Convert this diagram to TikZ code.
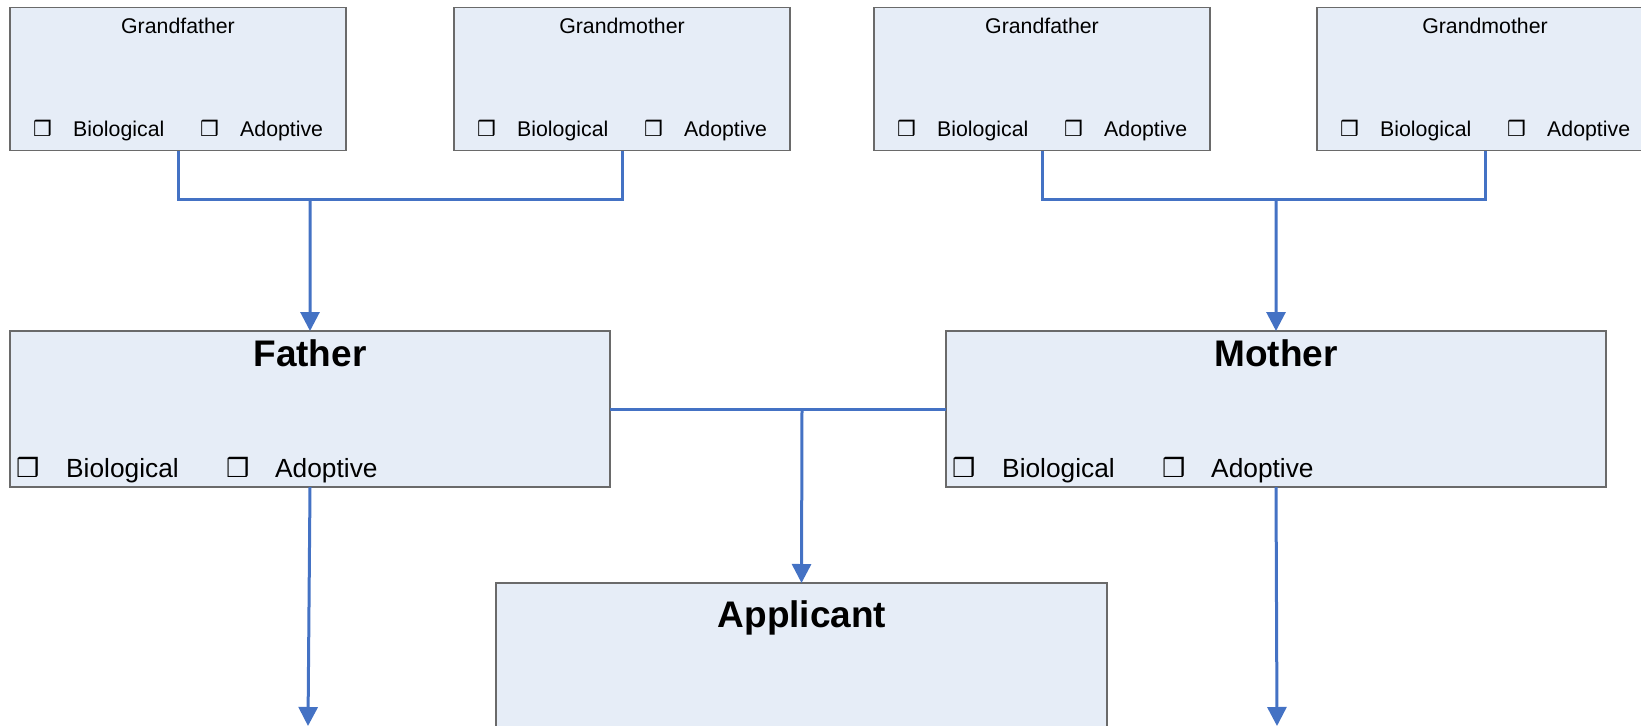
\documentclass[tikz,border=0pt]{standalone}
\usepackage{fontspec}
\setmainfont{Liberation Sans}
\newfontfamily\symfont{DejaVu Sans}
\usetikzlibrary{arrows.meta}
\definecolor{boxfill}{HTML}{E6EDF7}
\definecolor{boxline}{HTML}{6A6A6A}
\definecolor{linkblue}{HTML}{4472C4}
\tikzset{
  person/.style={draw=boxline, line width=1.5bp, fill=boxfill, anchor=north west,
    inner sep=0pt, outer sep=0pt},
  gpbox/.style={person, minimum width=336bp, minimum height=143bp},
  smalltxt/.style={font=\fontsize{21.3bp}{24bp}\selectfont, inner sep=0pt, anchor=base west},
  smallbox/.style={font=\symfont\bfseries\fontsize{21bp}{24bp}\selectfont, inner sep=0pt, anchor=base west},
  smalltitle/.style={font=\fontsize{21.3bp}{24bp}\selectfont, inner sep=0pt, anchor=base},
  bigtxt/.style={font=\fontsize{26.3bp}{30bp}\selectfont, inner sep=0pt, anchor=base west},
  bigbox/.style={font=\symfont\bfseries\fontsize{26bp}{30bp}\selectfont, inner sep=0pt, anchor=base west},
  bigtitle/.style={font=\bfseries\fontsize{37bp}{42bp}\selectfont, inner sep=0pt, anchor=base},
  link/.style={draw=linkblue, line width=3bp},
  linkarrow/.style={link, -{Triangle[width=19bp,length=19bp]}},
}
\begin{document}
\begin{tikzpicture}[x=1bp, y=-1bp]
\useasboundingbox (0,0) rectangle (1641,726);

% grandparent boxes
\node[gpbox] (gf1) at (10,7.5) {};
\node[gpbox] (gm1) at (454,7.5) {};
\node[gpbox] (gf2) at (874,7.5) {};
\node[gpbox] (gm2) at (1317,7.5) {};

\node[smalltitle] (gf1t) at (178,34) {Grandfather};
\node[smalltitle] (gm1t) at (622,34) {Grandmother};
\node[smalltitle] (gf2t) at (1042,34) {Grandfather};
\node[smalltitle] (gm2t) at (1485,34) {Grandmother};

% rows in grandparent boxes
\foreach \L/\n in {10/a, 454/b, 874/c, 1317/d}{
  \node[smallbox] (cb1\n) at (\L+23,137) {❒};
  \node[smalltxt] (bio\n) at (\L+63,137) {Biological};
  \node[smallbox] (cb2\n) at (\L+190,137) {❒};
  \node[smalltxt] (ado\n) at (\L+230,137) {Adoptive};
}

% parent boxes
\node[person, minimum width=600bp, minimum height=156bp] (father) at (10,331) {};
\node[person, minimum width=660bp, minimum height=156bp] (mother) at (946,331) {};
\node[bigtitle] (fathert) at (310,366) {Father};
\node[bigtitle] (mothert) at (1276,366) {Mother};
\foreach \L/\n in {10/f, 946/m}{
  \node[bigbox] (pcb1\n) at (\L+6,477) {❒};
  \node[bigtxt] (pbio\n) at (\L+56,477) {Biological};
  \node[bigbox] (pcb2\n) at (\L+216,477) {❒};
  \node[bigtxt] (pado\n) at (\L+265,477) {Adoptive};
}

% applicant
\node[person, minimum width=611bp, minimum height=190bp] (applicant) at (496,583) {};
\node[bigtitle] (applicantt) at (802,627) {Applicant};

% connectors
\coordinate (j1) at (310,199);
\coordinate (j2) at (1276,199);
\coordinate (j3) at (802,409);
\coordinate (fout) at (308,726);
\coordinate (mout) at (1277,726);

\draw[link] (gf1.south) |- (j1) -| (gm1.south);
\draw[linkarrow] (j1) -- (father.north);
\draw[link] (gf2.south) |- (j2) -| (gm2.south);
\draw[linkarrow] (j2) -- (mother.north);
\draw[link] (father.east |- j3) -- (mother.west |- j3);
\draw[linkarrow] (j3) -- (applicant.north);
\draw[linkarrow] (father.south) -- (fout);
\draw[linkarrow] (mother.south) -- (mout);
\end{tikzpicture}
\end{document}
